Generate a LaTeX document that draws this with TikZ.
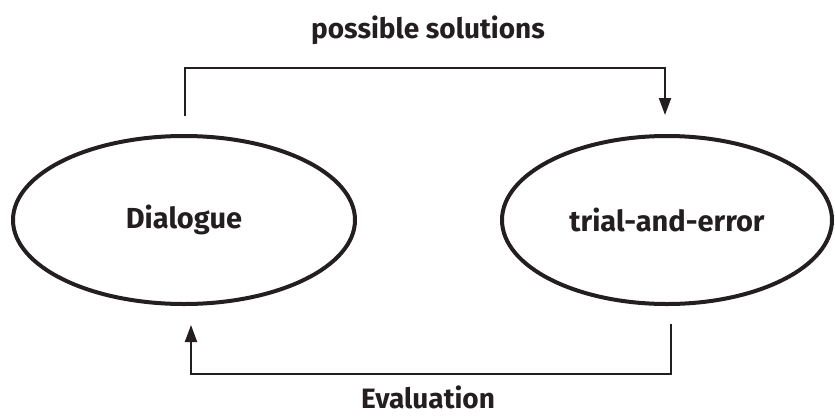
\documentclass[tikz,border=0pt]{standalone}
\usepackage{fontspec}
\setmainfont{Fira Sans}
\usetikzlibrary{shapes.geometric,arrows.meta}
\definecolor{ink}{HTML}{231F20}
\begin{document}
\begin{tikzpicture}[x=1pt,y=1pt,
  oval/.style={ellipse, draw=ink, line width=4pt, inner sep=0pt, text=ink, font=\fontsize{29}{33}\selectfont\bfseries},
  conn/.style={draw=ink, line width=2pt},
  arr/.style={conn, -{Triangle[length=17pt,width=12pt]}},
  lbl/.style={text=ink, font=\fontsize{28}{32}\selectfont\bfseries, inner sep=0pt}]
\useasboundingbox (0,0) rectangle (835,-416);
\node[oval, minimum width=342pt, minimum height=168pt] (D) at (184,-220) {Dialogue};
\node[oval, minimum width=330pt, minimum height=168pt] (T) at (667,-220) {trial-and-error};
\node[lbl, anchor=base] (ps) at (428,-38) {possible solutions};
\node[lbl, anchor=base] (ev) at (428,-408) {Evaluation};
\coordinate (t1) at (185,-116);
\coordinate (t2) at (665,-115);
\coordinate (b1) at (671,-324);
\coordinate (b2) at (191,-325);
\draw[arr] (t1) -- ++(0,48) -| (t2);
\draw[arr] (b1) -- ++(0,-50) -| (b2);
\end{tikzpicture}
\end{document}
